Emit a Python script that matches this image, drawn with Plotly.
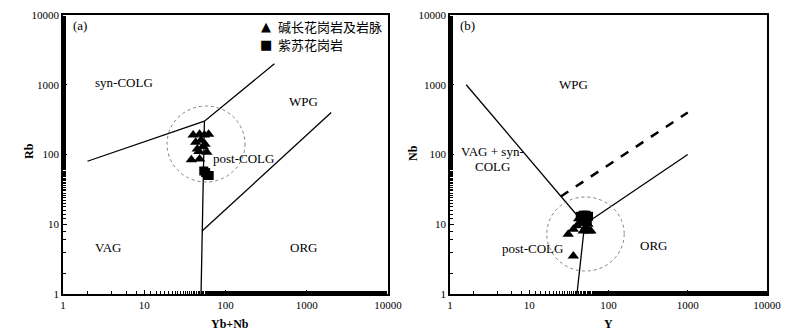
import numpy as np
import plotly.graph_objects as go

# ---------------- data ----------------
# Panel (a): Rb vs (Y+Nb)
a_tri_x = [40, 48, 55, 62, 43, 50, 56, 45, 53, 47, 59, 38, 48]
a_tri_y = [190, 195, 190, 195, 150, 160, 140, 120, 130, 110, 108, 84, 86]
a_sq_x = [54, 57, 60, 63]
a_sq_y = [58, 55, 50, 50]

# boundaries panel (a)
a_b1_x = [2, 55, 400]
a_b1_y = [80, 300, 2000]
a_b2_x = [55, 51.5, 50]
a_b2_y = [300, 8, 1]
a_b3_x = [51.5, 2000]
a_b3_y = [8, 400]

# Panel (b): Nb vs Y
b_tri_x = [31, 36, 40, 44, 48, 52, 56, 60, 42, 50, 55, 36]
b_tri_y = [7.2, 8.5, 9.5, 10.5, 8.0, 9.0, 8.0, 8.0, 12, 11, 10, 3.5]
b_sq_x = [44, 48, 52, 56, 46, 54]
b_sq_y = [13, 13.5, 13.5, 13, 11, 11]

b_b1_x = [1.6, 50]
b_b1_y = [1000, 10]
b_b2_x = [50, 1000]
b_b2_y = [10, 100]
b_b3_x = [40, 50]
b_b3_y = [1, 10]
b_dash_x = [25, 1000]
b_dash_y = [25, 400]

tick_vals = [1, 10, 100, 1000, 10000]
tick_text = ["1", "10", "100", "1000", "10000"]

legend_labels = ["碱长花岗岩及岩脉", "紫苏花岗岩"]

SERIF = "Liberation Serif"
CJK = "Noto Sans CJK SC"

# the page has an 8px body margin; figure is sized to fill the rest of the window
OFF = 8
W, H = 800 - OFF, 331 - OFF
MT, MB = 7, 37
PLOT_TOP = MT + OFF          # page px
PLOT_BOT = H - MB + OFF      # page px (=294)


def px_x(px):
    return (px - OFF) / W


def px_y(py):
    return (PLOT_BOT - py) / (PLOT_BOT - PLOT_TOP)


fig = go.Figure()


def line(x, y, xa, ya, dash="solid", width=1.3):
    fig.add_trace(go.Scatter(x=x, y=y, mode="lines", xaxis=xa, yaxis=ya,
                             line=dict(color="black", width=width, dash=dash),
                             showlegend=False, hoverinfo="skip"))


# panel a
line(a_b1_x, a_b1_y, "x", "y")
line(a_b2_x, a_b2_y, "x", "y")
line(a_b3_x, a_b3_y, "x", "y")
fig.add_trace(go.Scatter(x=a_tri_x, y=a_tri_y, mode="markers", xaxis="x", yaxis="y",
                         marker=dict(symbol="triangle-up", size=10, color="black"),
                         showlegend=False))
fig.add_trace(go.Scatter(x=a_sq_x, y=a_sq_y, mode="markers", xaxis="x", yaxis="y",
                         marker=dict(symbol="square", size=9, color="black"),
                         showlegend=False))

# panel b
line(b_b1_x, b_b1_y, "x2", "y2")
line(b_b2_x, b_b2_y, "x2", "y2")
line(b_b3_x, b_b3_y, "x2", "y2")
line(b_dash_x, b_dash_y, "x2", "y2", dash="dash", width=2.5)
fig.add_trace(go.Scatter(x=b_tri_x, y=b_tri_y, mode="markers", xaxis="x2", yaxis="y2",
                         marker=dict(symbol="triangle-up", size=10, color="black"),
                         showlegend=False))
fig.add_trace(go.Scatter(x=b_sq_x, y=b_sq_y, mode="markers", xaxis="x2", yaxis="y2",
                         marker=dict(symbol="square", size=9, color="black"),
                         showlegend=False))

# dotted circles (post-COLG fields)
for cx, cy, rx, ry in [(206, 144, 39, 38), (585.5, 234, 38.7, 37)]:
    fig.add_shape(type="circle", xref="paper", yref="paper",
                  x0=px_x(cx - rx), x1=px_x(cx + rx), y0=px_y(cy + ry), y1=px_y(cy - ry),
                  line=dict(color="#808080", width=1, dash="dot"))


def pann(text, px, py, size=13, font=SERIF, xanchor="center", angle=0):
    fig.add_annotation(text=text, x=px_x(px), y=px_y(py), xref="paper", yref="paper",
                       showarrow=False, xanchor=xanchor, yanchor="middle", textangle=angle,
                       font=dict(family=font, size=size, color="black"))


# field labels
pann("(a)", 80, 25)
pann("syn-COLG", 124, 82)
pann("WPG", 303, 101)
pann("post-COLG", 243, 158)
pann("VAG", 108, 247)
pann("ORG", 303, 247)

pann("(b)", 467, 25)
pann("WPG", 573, 84)
pann("VAG + syn-", 492, 151)
pann("COLG", 492, 166)
pann("post-COLG", 532, 248)
pann("ORG", 653, 246)

# axis titles
pann("<b>Yb+Nb</b>", 230, 324, size=12)
pann("<b>Rb</b>", 29, 151, size=12, angle=-90)
pann("<b>Y</b>", 608, 324, size=12)
pann("<b>Nb</b>", 413, 153, size=12, angle=-90)

# legend (as text)
leg_y = [26, 44]
leg_sym = ["▲", "■"]
for sym, lab, py in zip(leg_sym, legend_labels, leg_y):
    pann(sym, 266, py, size=13, font="DejaVu Sans")
    pann(lab, 276, py, size=13, font=CJK, xanchor="left")

axis_common = dict(
    type="log", range=[0, 4], tickvals=tick_vals, ticktext=tick_text,
    ticks="inside", ticklen=4, tickwidth=1, tickcolor="black",
    minor=dict(ticks="inside", ticklen=3, tickwidth=1, tickcolor="black", showgrid=False),
    showline=True, linecolor="black", linewidth=1.5, mirror=True,
    showgrid=False, zeroline=False, automargin=False,
    ticklabeloverflow="allow",
    tickfont=dict(family=SERIF, size=11, color="black"),
)

fig.update_layout(
    width=W, height=H,
    margin=dict(l=0, r=0, t=MT, b=MB),
    paper_bgcolor="white", plot_bgcolor="white",
    showlegend=False,
    xaxis=dict(domain=[px_x(63), px_x(388)], anchor="y", **axis_common),
    yaxis=dict(domain=[0, 1], anchor="x", **axis_common),
    xaxis2=dict(domain=[px_x(450), px_x(767)], anchor="y2", **axis_common),
    yaxis2=dict(domain=[0, 1], anchor="x2", **axis_common),
)

fig.write_html("out.html")
